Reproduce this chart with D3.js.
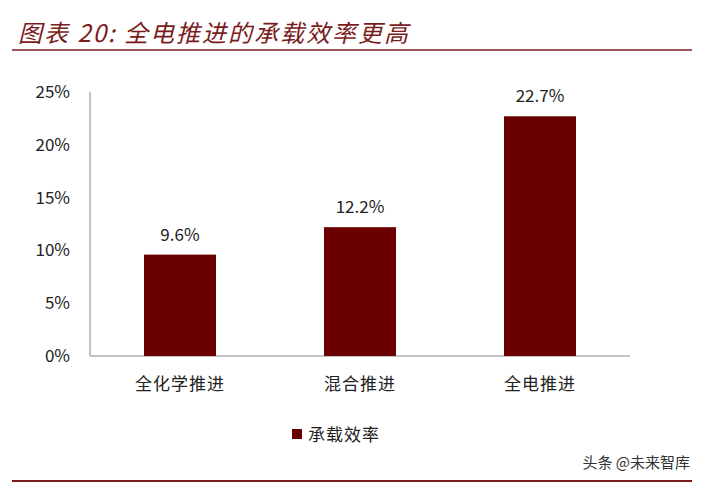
<!DOCTYPE html><html><head><meta charset="utf-8"><script src="https://cdn.jsdelivr.net/npm/d3@7"></script>
<style>body{margin:0;background:#fff}</style></head><body><svg id="c" width="703" height="485"></svg>
<script>
const categories=["全化学推进","混合推进","全电推进"];
const values=[9.6,12.2,22.7];
const yTicks=[0,5,10,15,20,25];
const seriesName="承载效率";
const dark="#6b0000";
const svg=d3.select("#c");
const font="'Noto Sans CJK SC','Noto Sans',sans-serif";
svg.append("text").attr("x",18).attr("y",42).attr("font-family",font).attr("font-style","italic").attr("font-size",24).attr("letter-spacing",2).attr("fill","#7a1c1c").text("图表 20:  全电推进的承载效率更高");
svg.append("line").attr("x1",12).attr("x2",692).attr("y1",50).attr("y2",50).attr("stroke","#7a1c1c").attr("stroke-width",1.5);
svg.append("line").attr("x1",12).attr("x2",692).attr("y1",481).attr("y2",481).attr("stroke","#7a1c1c").attr("stroke-width",2);
svg.append("text").attr("x",690).attr("y",468).attr("text-anchor","end").attr("font-family",font).attr("font-size",15).attr("fill","#333").text("头条 @未来智库");
const x=d3.scaleBand().domain(categories).range([90,630]).paddingInner(0.6).paddingOuter(0.3);
const y=d3.scaleLinear().domain([0,25]).range([356,92]);
const g=svg.append("g").attr("font-family",font);
g.append("line").attr("x1",90).attr("x2",90).attr("y1",92).attr("y2",356).attr("stroke","#888");
g.append("line").attr("x1",90).attr("x2",630).attr("y1",356).attr("y2",356).attr("stroke","#888");
yTicks.forEach(t=>g.append("text").attr("x",70).attr("y",y(t)+6).attr("text-anchor","end").attr("font-size",17).attr("fill","#222").text(t+"%"));
categories.forEach((c,i)=>{
 g.append("rect").attr("x",x(c)).attr("width",x.bandwidth()).attr("y",y(values[i])).attr("height",y(0)-y(values[i])).attr("fill",dark);
 g.append("text").attr("x",x(c)+x.bandwidth()/2).attr("y",y(values[i])-14).attr("text-anchor","middle").attr("font-size",17).attr("fill","#222").text(values[i].toFixed(1)+"%");
 g.append("text").attr("x",x(c)+x.bandwidth()/2).attr("y",390).attr("text-anchor","middle").attr("font-size",17).attr("letter-spacing",1).attr("fill","#222").text(c);
});
g.append("rect").attr("x",292).attr("y",429).attr("width",10).attr("height",10).attr("fill",dark);
g.append("text").attr("x",308).attr("y",441).attr("font-size",17).attr("letter-spacing",1).attr("fill","#222").text(seriesName);
</script></body></html>
